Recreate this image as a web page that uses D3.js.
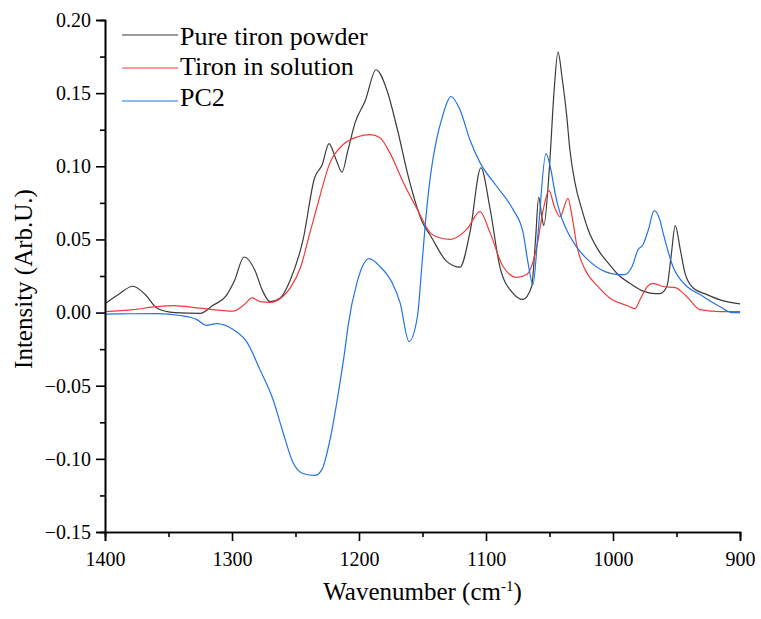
<!DOCTYPE html>
<html>
<head>
<meta charset="utf-8">
<script src="https://cdn.jsdelivr.net/npm/d3@7"></script>
<style>
  body { margin: 0; background: #fff; }
  svg text { font-family: "Liberation Serif", "Times New Roman", serif; fill: #000; }
</style>
</head>
<body>
<script>
// spectra: wavenumber (cm-1) and intensity
const powderWn = [1400, 1390, 1378, 1368, 1359, 1345, 1325, 1315, 1305, 1298, 1290.5, 1282, 1276, 1270, 1262, 1254, 1244, 1235, 1229, 1223.6, 1218, 1213.4, 1208.7, 1203, 1195, 1186.6, 1178, 1170, 1160, 1150, 1144, 1131, 1120.5, 1112.6, 1104, 1097, 1089, 1079, 1071, 1064, 1061, 1058.5, 1056, 1054.5, 1050, 1046.5, 1043.3, 1040, 1036.5, 1033.9, 1030, 1024.4, 1019.7, 1011.8, 1003.9, 996, 985, 975, 967, 963, 957.5, 954.3, 951, 947, 943.3, 937, 926, 913, 900];
const powderI = [0.006, 0.012, 0.018, 0.012, 0.003, 0.0, -0.0005, 0.005, 0.011, 0.022, 0.038, 0.029, 0.015, 0.0075, 0.010, 0.0225, 0.050, 0.092, 0.101, 0.1155, 0.1045, 0.096, 0.111, 0.130, 0.145, 0.166, 0.152, 0.126, 0.089, 0.0615, 0.053, 0.035, 0.031, 0.055, 0.099, 0.072, 0.031, 0.0135, 0.009, 0.018, 0.05, 0.079, 0.065, 0.0595, 0.100, 0.150, 0.178, 0.160, 0.135, 0.111, 0.089, 0.070, 0.057, 0.043, 0.034, 0.026, 0.019, 0.0143, 0.013, 0.013, 0.018, 0.038, 0.0594, 0.043, 0.027, 0.017, 0.0123, 0.008, 0.006];

const solutionWn = [1400, 1378, 1360, 1346, 1325, 1299, 1291, 1284, 1278, 1270, 1260, 1254, 1246, 1238.6, 1233, 1222.8, 1212.6, 1201.6, 1191, 1183.5, 1175.6, 1165, 1154, 1144, 1136, 1128, 1115, 1104.7, 1097, 1086.6, 1075.6, 1068, 1060, 1055, 1050.4, 1046, 1041.7, 1035.5, 1032.3, 1028.3, 1022, 1011.8, 1000.8, 989, 982.7, 978.7, 973, 968.5, 960.6, 951, 942, 931.5, 915, 900];
const solutionI = [0.0007, 0.002, 0.004, 0.0048, 0.003, 0.001, 0.005, 0.010, 0.0075, 0.007, 0.011, 0.017, 0.031, 0.0546, 0.0725, 0.1025, 0.1148, 0.120, 0.1216, 0.1195, 0.109, 0.0888, 0.0704, 0.0546, 0.051, 0.050, 0.057, 0.069, 0.055, 0.0315, 0.024, 0.026, 0.045, 0.070, 0.0833, 0.072, 0.0656, 0.078, 0.066, 0.045, 0.0294, 0.0178, 0.0089, 0.0048, 0.0027, 0.0089, 0.0178, 0.020, 0.0178, 0.017, 0.011, 0.002, 0.0007, 0.0007];

const pc2Wn = [1400, 1380, 1359, 1341, 1327.6, 1320, 1312, 1299, 1288, 1278, 1267.7, 1259.8, 1252, 1244, 1234.6, 1229, 1222.8, 1215, 1211, 1208.7, 1201.6, 1192, 1183.5, 1174, 1167.7, 1160.6, 1154, 1150.5, 1147, 1143.5, 1139, 1134, 1130, 1127.6, 1120.5, 1112.6, 1104.7, 1091.3, 1078.7, 1070.8, 1066.9, 1063, 1059, 1052.8, 1049, 1045.7, 1041.7, 1037.8, 1028.3, 1019.7, 1006.3, 996, 990.6, 985, 980.3, 976.4, 972, 967.7, 963, 960.6, 952.8, 941.7, 931.5, 915.7, 906, 900];
const pc2I = [-0.001, -0.0008, -0.0007, -0.002, -0.0048, -0.0087, -0.0075, -0.0116, -0.0205, -0.039, -0.0594, -0.082, -0.1025, -0.110, -0.1113, -0.107, -0.0867, -0.048, -0.025, -0.0096, 0.0205, 0.0369, 0.0315, 0.0205, 0.0068, -0.0198, -0.0027, 0.032, 0.068, 0.095, 0.118, 0.135, 0.145, 0.1477, 0.1387, 0.118, 0.1025, 0.086, 0.0704, 0.0546, 0.034, 0.019, 0.0546, 0.1086, 0.098, 0.082, 0.068, 0.059, 0.0444, 0.036, 0.028, 0.026, 0.026, 0.0315, 0.043, 0.0464, 0.057, 0.0697, 0.063, 0.0546, 0.0315, 0.0178, 0.0123, 0.004, 0.0, 0.0];

const seriesNames = ["Pure tiron powder", "Tiron in solution", "PC2"];
const seriesColors = ["#3a3a3a", "#f23a3a", "#2273e6"];

const xMajor = [1400, 1300, 1200, 1100, 1000, 900];
const xMinor = [1350, 1250, 1150, 1050, 950];
const yMajor = [0.20, 0.15, 0.10, 0.05, 0.00, -0.05, -0.10, -0.15];
const yMinor = [0.175, 0.125, 0.075, 0.025, -0.025, -0.075, -0.125];

const width = 761, height = 619;
const margin = {left: 105, right: 21, top: 20, bottom: 87};
const serif = "'Liberation Serif', 'Times New Roman', serif";

const svg = d3.select("body").append("svg")
    .attr("width", width)
    .attr("height", height)
    .attr("font-family", serif)
    .style("background", "#fff");

const x = d3.scaleLinear().domain([1400, 900]).range([margin.left, width - margin.right]);
const y = d3.scaleLinear().domain([-0.15, 0.20]).range([height - margin.bottom, margin.top]);

const series = [
    {wn: powderWn, val: powderI},
    {wn: solutionWn, val: solutionI},
    {wn: pc2Wn, val: pc2I}
];

const line = d3.line()
    .x(d => x(d[0]))
    .y(d => y(d[1]))
    .curve(d3.curveMonotoneX);

// draw spectra
svg.append("g")
    .selectAll("path")
    .data(series)
    .enter()
    .append("path")
    .attr("fill", "none")
    .attr("stroke", (d, i) => seriesColors[i])
    .attr("stroke-width", 1.2)
    .attr("d", d => line(d.wn.map((w, i) => [w, d.val[i]])));

// axes, minor ticks first then majors with labels
const gx = height - margin.bottom;
svg.append("g")
    .attr("transform", `translate(0,${gx})`)
    .call(d3.axisBottom(x).tickValues(xMinor).tickSize(5).tickFormat(""));
svg.append("g")
    .attr("transform", `translate(0,${gx})`)
    .call(d3.axisBottom(x).tickValues(xMajor).tickSize(9).tickPadding(11).tickFormat(d3.format("d")));

svg.append("g")
    .attr("transform", `translate(${margin.left},0)`)
    .call(d3.axisLeft(y).tickValues(yMinor).tickSize(5).tickFormat(""));
svg.append("g")
    .attr("transform", `translate(${margin.left},0)`)
    .call(d3.axisLeft(y).tickValues(yMajor).tickSize(9).tickPadding(5).tickFormat(d3.format(".2f")));

svg.selectAll("g")
    .attr("font-family", serif)
    .attr("font-size", 20);
svg.selectAll(".domain, .tick line")
    .attr("stroke", "#000")
    .attr("stroke-width", 1.6);

// axis titles
const xt = svg.append("text")
    .attr("x", (margin.left + width - margin.right) / 2)
    .attr("y", 600)
    .attr("text-anchor", "middle")
    .attr("font-size", 25);
xt.append("tspan").text("Wavenumber (cm");
xt.append("tspan").text("-1").attr("dy", -9).attr("font-size", 15);
xt.append("tspan").text(")").attr("dy", 9);

svg.append("text")
    .attr("transform", `translate(32,${(margin.top + height - margin.bottom) / 2 + 3}) rotate(-90)`)
    .attr("text-anchor", "middle")
    .attr("font-size", 25)
    .text("Intensity (Arb.U.)");

// legend
const legend = svg.append("g").attr("font-size", 26);
seriesNames.forEach((name, i) => {
    legend.append("line")
        .attr("x1", 122).attr("x2", 178)
        .attr("y1", 35 + i * 33).attr("y2", 35 + i * 33)
        .attr("stroke", seriesColors[i])
        .attr("stroke-width", 1.2);
    legend.append("text")
        .attr("x", 180)
        .attr("y", 45 + i * 30.3)
        .text(name);
});
</script>
</body>
</html>
